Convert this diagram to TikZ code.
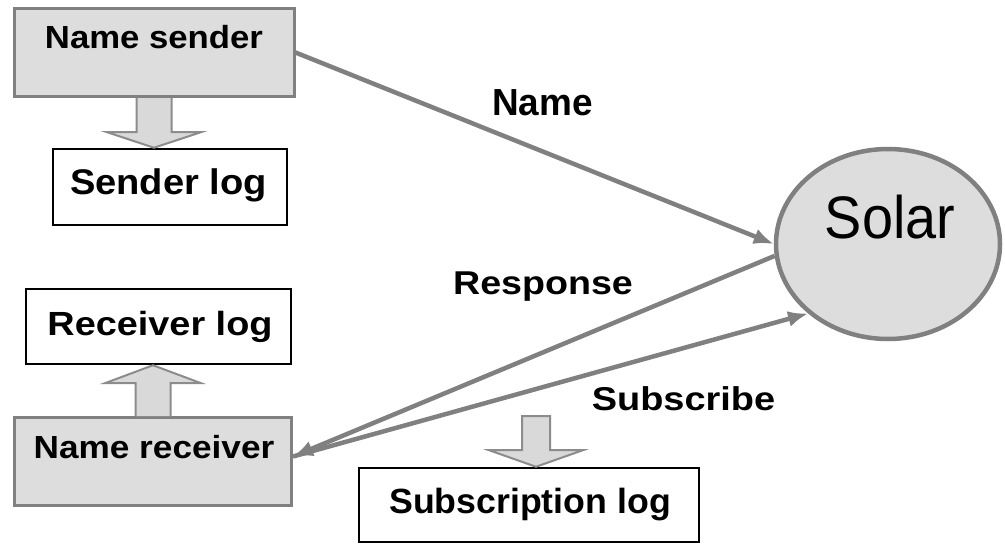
\documentclass[tikz,border=0pt]{standalone}
\usepackage{fontspec}
\usepackage{graphicx}
\setmainfont{Liberation Sans}
\usetikzlibrary{arrows.meta,calc,shapes.geometric}
\definecolor{boxfill}{RGB}{221,221,221}
\definecolor{edgegray}{RGB}{128,128,128}
\definecolor{arrfill}{RGB}{217,217,217}
\definecolor{arrline}{RGB}{140,140,140}
\newcommand{\mytxt}[3]{\scalebox{#2}[1]{\fontsize{#1}{#1}\selectfont\bfseries #3}}
\begin{document}
\begin{tikzpicture}[x=1pt,y=-1pt,
  graybox/.style={rectangle, draw=edgegray, fill=boxfill, line width=3pt, inner sep=0pt},
  logbox/.style={rectangle, draw=black, fill=white, line width=2.5pt, inner sep=0pt},
  txt/.style={inner sep=0pt, anchor=base, text=black},
  conn/.style={draw=edgegray, line width=4.5pt, -{Latex[length=20pt,width=16pt]}},
  blockarr/.style={draw=arrline, fill=arrfill, line width=2pt, line join=miter}
]
\fill[white] (0,0) rectangle (1005,546);
\useasboundingbox (0,0) rectangle (1005,546);

% boxes
\node[graybox, minimum width=280pt, minimum height=88pt] (nsend) at (154,52.5) {};
\node[logbox, minimum width=234pt, minimum height=76pt] (slog) at (170,187) {};
\node[logbox, minimum width=265pt, minimum height=75pt] (rlog) at (158.5,326.5) {};
\node[graybox, minimum width=277pt, minimum height=88pt] (nrecv) at (153,461.5) {};
\node[logbox, minimum width=340pt, minimum height=74pt] (sublog) at (529,505) {};
\node[ellipse, draw=edgegray, fill=boxfill, line width=4.5pt, minimum width=224pt, minimum height=190pt, inner sep=0pt] (solar) at (888,244) {};

% texts
\node[txt] (nsendt) at (154,48) {\mytxt{32}{1.085}{Name sender}};
\node[txt] (slogt) at (168.5,194) {\mytxt{35.6}{1.07}{Sender log}};
\node[txt] (rlogt) at (160,335) {\mytxt{33.5}{1.13}{Receiver log}};
\node[txt] (nrecvt) at (154,458) {\mytxt{32}{1.1}{Name receiver}};
\node[txt] (sublogt) at (530,513) {\mytxt{35}{1.02}{Subscription log}};
\node[txt] (solart) at (890,238) {\scalebox{0.93}[1]{\fontsize{60}{60}\selectfont Solar}};

% block arrows
\draw[blockarr] ($(nsend.south)+(-17.5,0)$) -- ($(nsend.south)+(-17.5,34)$) -- ($(nsend.south)+(-47.5,34)$) -- (nsend.south |- slog.north) -- ($(nsend.south)+(47.5,34)$) -- ($(nsend.south)+(17.5,34)$) -- ($(nsend.south)+(17.5,0)$);
\draw[blockarr] ($(nrecv.north)+(-17.5,0)$) -- ($(nrecv.north)+(-17.5,-33)$) -- ($(nrecv.north)+(-47.5,-33)$) -- (nrecv.north |- rlog.south) -- ($(nrecv.north)+(47.5,-33)$) -- ($(nrecv.north)+(17.5,-33)$) -- ($(nrecv.north)+(17.5,0)$);
\coordinate (subtop) at (536,416);
\draw[blockarr] ($(subtop)+(-14,0)$) -- ($(subtop)+(-14,34)$) -- ($(subtop)+(-47.5,34)$) -- (subtop |- sublog.north) -- ($(subtop)+(47.5,34)$) -- ($(subtop)+(14,34)$) -- ($(subtop)+(14,0)$) -- cycle;

% connectors
\coordinate (rtip) at ([yshift=5pt]nrecv.east);
\draw[conn] (nsend.east) -- (solar.180);
\draw[conn] (solar.186) -- (rtip);
\draw[conn] (rtip) -- (solar.221);

% labels
\node[txt] (lname) at (542.5,115) {\mytxt{37.7}{0.98}{Name}};
\node[txt] (lresp) at (543,294) {\mytxt{33}{1.14}{Response}};
\node[txt] (lsubs) at (683.5,410) {\mytxt{33}{1.15}{Subscribe}};
\end{tikzpicture}
\end{document}
